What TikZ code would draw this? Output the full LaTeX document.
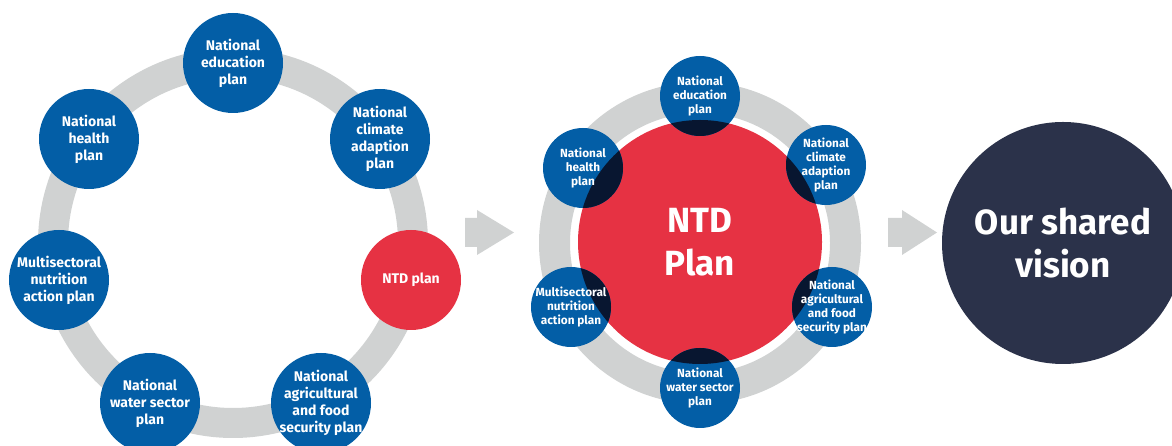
\documentclass[tikz,border=0pt]{standalone}
\usepackage{fontspec}
\setmainfont{Fira Sans}
\usetikzlibrary{positioning}

\definecolor{planblue}{RGB}{3,94,166}
\definecolor{ntdred}{RGB}{230,50,67}
\definecolor{ringgray}{RGB}{208,210,210}
\definecolor{overlapdark}{RGB}{8,22,48}
\definecolor{visionnavy}{RGB}{43,50,74}

\tikzset{
  ring/.style={draw=ringgray, line width=30pt},
  plan/.style={circle, fill=planblue, text=white, inner sep=-6pt, minimum size=100pt,
    align=center, font=\bfseries\fontsize{14}{17}\selectfont},
  smallplan/.style={plan, minimum size=80pt, font=\bfseries\fontsize{11.8}{14}\selectfont,
    path picture={\fill[overlapdark] (ntd.center) circle[radius=122pt];}},
  bigtext/.style={text=white, align=center, font=\bfseries\fontsize{35}{43}\selectfont},
  blockarrow/.style={fill=ringgray}
}

\begin{document}
\begin{tikzpicture}[x=1pt,y=1pt]
  \useasboundingbox (0,0) rectangle (1172,446);
  \clip (0,0) rectangle (1172,446);

  % left ring of plans
  \draw[ring] (233,203) circle[radius=180];
  \foreach \pos/\name/\txt in {
      {(233,383)}/ledu/{National\\education\\plan},
      {(89,307)}/lhealth/{National\\health\\plan},
      {(380,307)}/lclimate/{National\\climate\\adaption\\plan},
      {(59,166)}/lnutrition/{Multisectoral\\nutrition\\action plan},
      {(150,43)}/lwater/{National\\water sector\\plan},
      {(321,43)}/lagri/{National\\agricultural\\and food\\security plan}}
    \node[plan] (\name) at \pos {\txt};
  \node[plan, fill=ntdred] (lntd) at (411,166) {NTD plan};

  % first arrow
  \fill[blockarrow] (465,199) -- (477,199) -- (477,191) -- (514,213.5)
    -- (477,236) -- (477,228) -- (465,228) -- cycle;

  % middle: NTD plan at the centre
  \draw[ringgray, line width=31pt] (700,203) circle[radius=145.5];
  \node[circle, fill=ntdred, minimum size=244pt, bigtext] (ntd) at (700,204) {NTD\\Plan};
  \foreach \pos/\name/\txt in {
      {(700,350)}/medu/{National\\education\\plan},
      {(583,278)}/mhealth/{National\\health\\plan},
      {(826,281)}/mclimate/{National\\climate\\adaption\\plan},
      {(571,139)}/mnutrition/{Multisectoral\\nutrition\\action plan},
      {(832,139)}/magri/{National\\agricultural\\and food\\security plan},
      {(700,58)}/mwater/{National\\water sector\\plan}}
    \node[smallplan] (\name) at \pos {\txt};

  % second arrow
  \fill[blockarrow] (888,199) -- (902,199) -- (902,191) -- (937,213.5)
    -- (902,236) -- (902,228) -- (888,228) -- cycle;

  % shared vision
  \node[circle, fill=visionnavy, minimum size=242pt, bigtext] (vision) at (1063,203) {Our shared\\vision};
\end{tikzpicture}
\end{document}
